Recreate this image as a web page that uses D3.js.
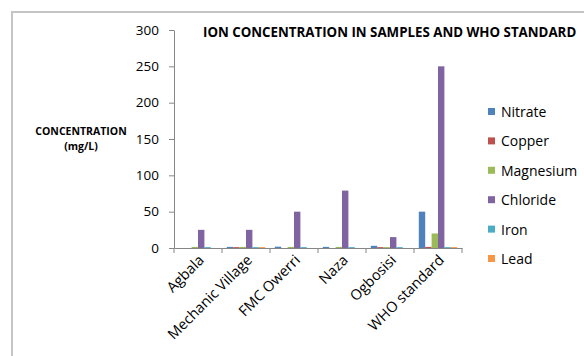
<!DOCTYPE html>
<html><head><meta charset="utf-8">
<script src="https://cdn.jsdelivr.net/npm/d3@7"></script>
<style>body{margin:0;background:#fff}svg{display:block;font-family:"Open Sans",sans-serif}</style>
</head><body><div id="chart"></div>
<script>
const categories = ["Agbala","Mechanic Village","FMC Owerri","Naza","Ogbosisi","WHO standard"];
const seriesNames = ["Nitrate","Copper","Magnesium","Chloride","Iron","Lead"];
const nitrate   = [0, 1.5, 1.8, 1.5, 3, 50];
const copper    = [0, 1.2, 0, 0, 1.2, 1.5];
const magnesium = [1.5, 1.5, 1.5, 1.5, 1.2, 20];
const chloride  = [25, 25, 50, 79, 15, 250];
const iron      = [1.2, 1.2, 1.2, 1.2, 1.2, 1.2];
const lead      = [0, 1.2, 0, 0, 0, 1.2];
const yTicks = [0, 50, 100, 150, 200, 250, 300];
const colors = ["#4F81BD","#C0504D","#9BBB59","#8064A2","#4BACC6","#F79646"];
const seriesValues = [nitrate, copper, magnesium, chloride, iron, lead];

const W = 584, H = 356;
const svg = d3.select("#chart").append("svg").attr("width", W).attr("height", H);

svg.append("path").attr("d", `M12,${H} L12,12 L${W},12`).attr("fill","none")
  .attr("stroke","#c4c4c4").attr("stroke-width",2);

const x0 = 174, x1 = 462, yTop = 30, yBot = 248;
const x = d3.scaleBand().domain(categories).range([x0, x1]).paddingInner(0).paddingOuter(0);
const y = d3.scaleLinear().domain([0, 300]).range([yBot, yTop]);
const bw = x.bandwidth() / 7.5;
const xs = d3.scaleBand().domain(seriesNames).range([x.bandwidth()/2 - 3*bw, x.bandwidth()/2 + 3*bw]);

seriesNames.forEach((s, si) => {
  svg.append("g").selectAll("rect").data(categories).join("rect")
    .attr("x", c => x(c) + xs(s))
    .attr("width", xs.bandwidth())
    .attr("y", (c, i) => y(seriesValues[si][i]))
    .attr("height", (c, i) => yBot - y(seriesValues[si][i]))
    .attr("fill", colors[si]);
});

const yAxis = svg.append("g").attr("transform", `translate(${x0},0)`)
  .call(d3.axisLeft(y).tickValues(yTicks).tickSize(5).tickPadding(10).tickSizeOuter(0));
yAxis.select(".domain").attr("stroke","#868686");
yAxis.selectAll(".tick line").attr("stroke","#868686");
yAxis.selectAll("text").attr("font-size", 13.5).attr("fill","#000").attr("font-family","Open Sans");

const xAxis = svg.append("g").attr("transform", `translate(0,${yBot})`)
  .call(d3.axisBottom(x).tickSize(0).tickFormat(""));
xAxis.select(".domain").attr("stroke","#868686");
const bounds = categories.map(c => x(c)).concat([x1]);
svg.append("g").selectAll("line").data(bounds).join("line")
  .attr("x1", d => d).attr("x2", d => d).attr("y1", yBot).attr("y2", yBot + 5)
  .attr("stroke","#868686");
svg.append("g").selectAll("text").data(categories).join("text")
  .attr("transform", c => `translate(${x(c) + x.bandwidth()/2 + 7},${yBot + 13}) rotate(-45)`)
  .attr("text-anchor","end").attr("font-size", 14.5).attr("fill","#000")
  .text(c => c);

svg.append("text").attr("x", 203).attr("y", 37).attr("font-size", 13.3).attr("font-weight","bold")
  .attr("fill","#000").text("ION CONCENTRATION IN SAMPLES AND WHO STANDARD");

svg.append("text").attr("x", 81).attr("y", 135).attr("text-anchor","middle")
  .attr("font-size", 10.5).attr("font-weight","bold").text("CONCENTRATION");
svg.append("text").attr("x", 81).attr("y", 150).attr("text-anchor","middle")
  .attr("font-size", 10.5).attr("font-weight","bold").text("(mg/L)");

const lg = svg.append("g").selectAll("g").data(seriesNames).join("g")
  .attr("transform", (d, i) => `translate(488,${112 + i * 29.4})`);
lg.append("rect").attr("x",0).attr("y",-4).attr("width",7).attr("height",7).attr("fill",(d,i)=>colors[i]);
lg.append("text").attr("x", 13).attr("y", 5).attr("font-size", 14).attr("fill","#000").text(d => d);
</script></body></html>
